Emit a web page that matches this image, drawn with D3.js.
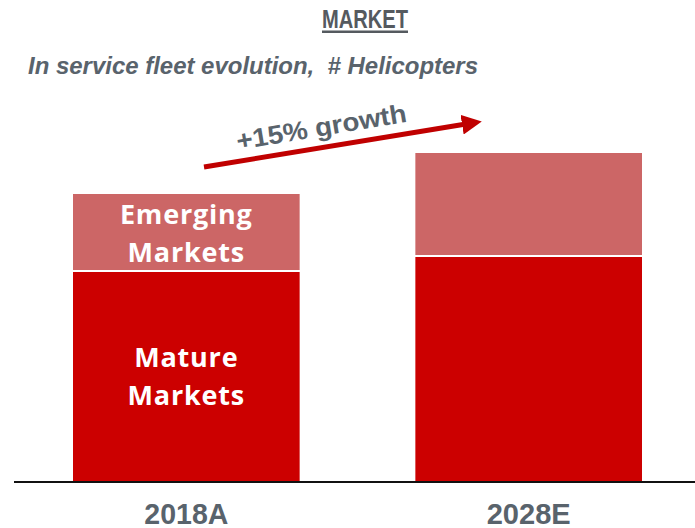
<!DOCTYPE html>
<html>
<head>
<meta charset="utf-8">
<script src="https://cdn.jsdelivr.net/npm/d3@7"></script>
<style>
  body { margin: 0; background: #fff; }
</style>
</head>
<body>
<div id="chart-area"></div>
<script>
// chart data
const years = ["2018A", "2028E"];
const mature = [210, 225];
const emerging = [78, 104];
const growthLabel = "+15% growth";

const W = 695, H = 528;
const baseY = 482;

const svg = d3.select("#chart-area")
  .append("svg")
    .attr("width", W)
    .attr("height", H);

// scales
const x = d3.scaleBand()
  .domain(years)
  .range([73, 642])
  .paddingInner(0.338)
  .paddingOuter(0);

const y = d3.scaleLinear()
  .domain([0, 329])
  .range([baseY, 153]);

const grey = "#59636c";
const font = "Liberation Sans, Arial, sans-serif";

// title
svg.append("text")
  .attr("x", 322)
  .attr("y", 28)
  .attr("font-family", font)
  .attr("font-weight", "bold")
  .attr("font-size", "26px")
  .attr("fill", "#555a5f")
  .attr("textLength", 86)
  .attr("lengthAdjust", "spacingAndGlyphs")
  .text("MARKET");
svg.append("rect")
  .attr("x", 322).attr("y", 30.5)
  .attr("width", 86).attr("height", 2.5)
  .attr("fill", "#555a5f");

// subtitle
svg.append("text")
  .attr("x", 28)
  .attr("y", 74)
  .attr("font-family", font)
  .attr("font-weight", "bold")
  .attr("font-style", "italic")
  .attr("font-size", "23px")
  .attr("fill", grey)
  .attr("textLength", 450)
  .attr("lengthAdjust", "spacingAndGlyphs")
  .attr("xml:space", "preserve")
  .text("In service fleet evolution,  # Helicopters");

// stacked bars
const stack = years.map(function(yr, i) {
  return { year: yr, mature: mature[i], emerging: emerging[i] };
});

svg.selectAll(".mature")
  .data(stack)
  .enter().append("rect")
    .attr("class", "mature")
    .attr("x", d => x(d.year))
    .attr("width", x.bandwidth())
    .attr("y", d => y(d.mature))
    .attr("height", d => baseY - y(d.mature))
    .attr("fill", "#cc0000");

svg.selectAll(".emerging")
  .data(stack)
  .enter().append("rect")
    .attr("class", "emerging")
    .attr("x", d => x(d.year))
    .attr("width", x.bandwidth())
    .attr("y", d => y(d.mature + d.emerging))
    .attr("height", d => y(d.mature) - y(d.mature + d.emerging) - 2)
    .attr("fill", "#cc6666");

// segment labels on first bar
const cx0 = x(years[0]) + x.bandwidth() / 2;
function segLabel(lines, yTop) {
  lines.forEach(function(t, i) {
    svg.append("text")
      .attr("x", cx0)
      .attr("y", yTop + i * 38)
      .attr("text-anchor", "middle")
      .attr("font-family", "Open Sans, Lato, sans-serif")
      .attr("font-weight", "bold")
      .attr("font-size", "27px")
      .attr("letter-spacing", "0.8px")
      .attr("fill", "#fff")
      .text(t);
  });
}
segLabel(["Emerging", "Markets"], 224);
segLabel(["Mature", "Markets"], 367);

// axis
const xAxis = d3.axisBottom(x).tickSize(0);
const gx = svg.append("g")
  .attr("transform", "translate(0," + baseY + ")")
  .call(xAxis);
gx.select(".domain")
  .attr("d", "M14,0H695")
  .attr("stroke", "#111")
  .attr("stroke-width", 2);
gx.selectAll("text")
  .attr("y", 41.5)
  .attr("dy", 0)
  .attr("font-family", font)
  .attr("font-weight", "bold")
  .attr("font-size", "30px")
  .attr("fill", grey)
  .attr("textLength", 84)
  .attr("lengthAdjust", "spacingAndGlyphs");

// growth arrow
const defs = svg.append("defs");
defs.append("marker")
  .attr("id", "arrowhead")
  .attr("viewBox", "0 0 10 10")
  .attr("refX", 2).attr("refY", 5)
  .attr("markerWidth", 4).attr("markerHeight", 4)
  .attr("orient", "auto")
  .append("path")
    .attr("d", "M0,0L10,5L0,10z")
    .attr("fill", "#c00000");

svg.append("line")
  .attr("x1", 204).attr("y1", 167)
  .attr("x2", 466).attr("y2", 124)
  .attr("stroke", "#c00000")
  .attr("stroke-width", 5)
  .attr("marker-end", "url(#arrowhead)");

svg.append("text")
  .attr("transform", "translate(238,150) rotate(-9.5)")
  .attr("font-family", font)
  .attr("font-weight", "bold")
  .attr("font-size", "26px")
  .attr("fill", grey)
  .attr("textLength", 172)
  .attr("lengthAdjust", "spacingAndGlyphs")
  .text(growthLabel);
</script>
</body>
</html>
